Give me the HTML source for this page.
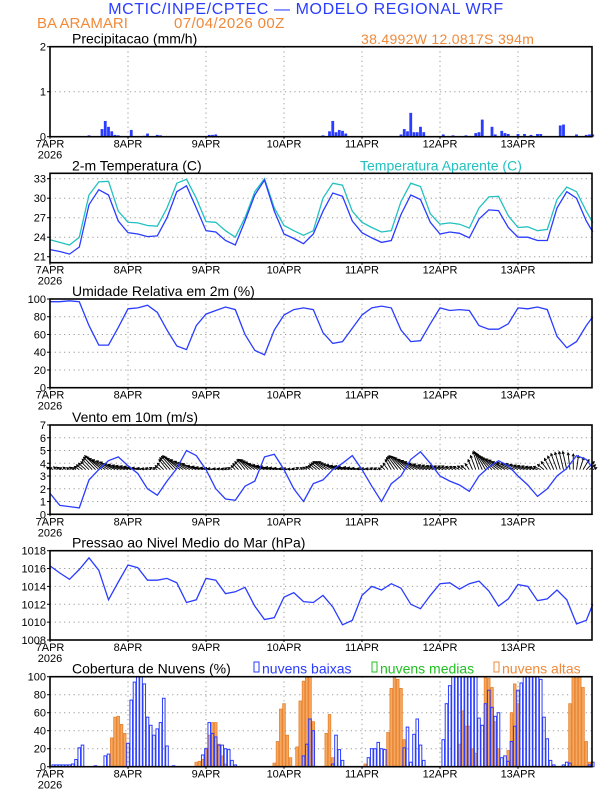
<!DOCTYPE html>
<html><head><meta charset="utf-8"><style>
html,body{margin:0;padding:0;background:#fff;}
svg{display:block;font-family:"Liberation Sans",sans-serif;}
.tk{font-size:11px;fill:#000;}
.tt{font-size:14px;fill:#000;}
</style></head><body>
<svg id="c" width="612" height="792" viewBox="0 0 612 792">
<text x="306" y="14" text-anchor="middle" font-size="16" letter-spacing="0.6" fill="#2a3cff">MCTIC/INPE/CPTEC — MODELO REGIONAL WRF</text>
<text x="37" y="28" font-size="15" fill="#f08a3a">BA ARAMARI</text>
<text x="174" y="28" font-size="15" letter-spacing="0.4" fill="#f08a3a">07/04/2026 00Z</text>
<text x="361" y="44" font-size="14" letter-spacing="0.3" fill="#f08a3a">38.4992W 12.0817S 394m</text>
</svg>
<script>
const precipHours=[12,16,17,18,19,20,21,25,29,30,33,34,49,50,51,84,86,87,88,89,90,91,108,109,110,111,112,113,114,115,121,124,128,131,132,133,136,137,139,140,141,144,146,148,150,151,157,158,162,165,166,167];
const precipVals=[0.03,0.17,0.35,0.22,0.12,0.04,0.03,0.15,0.02,0.07,0.04,0.03,0.04,0.04,0.05,0.03,0.12,0.35,0.1,0.15,0.13,0.07,0.05,0.17,0.12,0.53,0.1,0.1,0.22,0.1,0.05,0.03,0.03,0.08,0.1,0.38,0.22,0.05,0.13,0.08,0.06,0.06,0.06,0.04,0.06,0.06,0.25,0.27,0.05,0.04,0.05,0.05];
const hours3=[0,3,6,9,12,15,18,21,24,27,30,33,36,39,42,45,48,51,54,57,60,63,66,69,72,75,78,81,84,87,90,93,96,99,102,105,108,111,114,117,120,123,126,129,132,135,138,141,144,147,150,153,156,159,162,165,167];
const temp2m=[22.1,21.8,21.4,22.5,29,31.3,30.5,26.5,24.7,24.5,24.1,24.2,27,31,31.9,28.5,25,24.8,23.5,22.8,26.5,30.5,32.8,28,24.5,23.8,23.0,24.5,28,30.8,30.3,26.5,24.7,23.9,23.2,23.5,27.5,30.5,29.8,26.3,24.5,24.8,24.6,23.9,26.8,28.2,28.1,25.5,24,24,23.5,23.5,28.5,31.0,30,26.5,24.8];
const tempApar=[23.6,23.2,22.8,24,30.5,32.5,32.6,28,26.3,26.2,25.8,25.7,28.5,32.3,32.9,30,26.4,26.3,25,24,27,31,33,28.5,25.8,25,24.3,25,30,32.3,32,28,26.3,25.5,24.8,25,29.5,32.3,31.8,27.6,26,26.2,26,25.4,28.5,30.2,30.3,27.3,25.5,25.6,25,25.2,29.8,31.7,31,28,26.2];
const humidity=[97,97,98,97,70,48,48,68,89,90,93,85,65,47,43,70,83,87,91,88,60,42,37,65,82,88,90,88,62,50,52,67,82,90,92,90,65,52,53,72,90,87,88,87,70,66,66,72,90,89,91,88,58,45,52,70,80];
const windSpeed=[1.65,0.7,0.6,0.5,2.7,3.5,4.2,4.5,3.8,3.2,2.0,1.5,2.6,3.6,5.0,4.6,3.5,2.0,1.2,1.1,2.2,2.6,4.5,4.7,3.5,2.0,1.0,2.4,2.7,3.5,4.0,4.6,3.5,2.2,1.0,2.4,3.0,4.3,4.9,4.0,3.0,2.6,2.3,1.8,3.0,3.7,4.2,3.8,3.0,2.3,1.4,2.0,3.0,3.6,4.6,4.3,3.6];
const windU=[-0.8,-0.9,-0.7,-0.8,-0.9,-0.8,-0.7,-0.8,-0.9,-1.2,-1.5,-1.8,
-2,-2.5,-3,-3.5,-3.8,-4,-4,-3.8,-3.7,-3.5,-3.3,-3.1,
-3,-2.8,-2.6,-2.5,-2.2,-1.8,-1.5,-1.3,-1.1,-1,-1.3,-1.6,
-2,-2.6,-3,-3.5,-3.8,-4,-4,-3.8,-3.6,-3.5,-3,-2.7,
-2.5,-2.2,-2,-2,-1.5,-1.2,-1,-1,-1,-1,-1.4,-1.7,
-2,-2.5,-3,-3.5,-3.8,-4,-4,-3.8,-3.6,-3.5,-3,-2.8,
-2.5,-2,-1.8,-1.5,-1.2,-1,-0.8,-0.9,-1,-1.2,-1.7,-2.1,
-2.5,-3,-3.3,-3.5,-3.8,-4,-4,-3.8,-3.6,-3.5,-3,-2.8,
-2.5,-2,-1.8,-1.5,-1.2,-1,-0.8,-1,-1.2,-1.5,-2,-2.5,
-3,-3.4,-3.7,-4,-4,-4,-4,-3.7,-3.4,-3,-2.8,-2.6,
-2.5,-2.3,-2.1,-2,-1.8,-1.6,-1.5,-1.3,-1.2,-1,-1.1,-1.3,
-1.5,-2,-2.5,-3,-3.4,-3.7,-4,-4,-4,-4,-3.6,-3.3,
-3,-2.8,-2.6,-2.5,-2.3,-2.1,-2,-1.8,-1.6,-1.5,-1.5,-1.5,
-1.5,-1.3,-1.1,-1,-0.5,0,0.5,1,1.5,2,1.5,1];
const windV=[0.6,0.5,0.7,0.6,0.5,0.6,0.5,0.6,0.5,0.8,1.2,1.6,
2,2.6,3.1,3.5,3.2,2.8,2.5,2.2,1.9,1.5,1.3,1.1,
1,0.9,0.8,0.6,0.5,0.4,0.3,0.4,0.5,0.5,1,1.6,
2.5,3,3.3,3.5,3.2,2.8,2.5,2.1,1.8,1.5,1,0.8,
0.6,0.5,0.4,0.3,0.3,0.3,0.3,0.4,0.5,1,1.5,2,
2.5,2.6,2.5,2.5,2.2,1.9,1.5,1.2,1,0.8,0.6,0.5,
0.4,0.3,0.3,0.2,0.3,0.5,0.5,0.6,0.8,1,1.4,1.7,
2,2,2,2,1.7,1.4,1.2,1,0.9,0.7,0.6,0.5,
0.4,0.3,0.3,0.3,0.4,0.4,0.4,1,1.6,2.5,3,3.3,
3.5,3.4,3.2,3,2.6,2.3,2,1.6,1.4,1.2,1.1,1,
1,0.9,0.9,0.9,0.8,0.8,0.8,0.9,1,1.5,2.5,3.5,
4.5,4.5,4.2,4,3.6,3.3,3,2.7,2.4,2,1.8,1.6,
1.5,1.3,1.1,1,0.9,0.8,0.7,0.8,1.3,2,2.8,3.4,
4,4.3,4.5,4.5,4.2,3.9,3.5,3,2.5,2,1.2,0.5];
const pressure=[1016.3,1015.5,1014.8,1015.9,1017.2,1015.8,1012.5,1014.5,1016.4,1016.1,1014.7,1014.7,1014.9,1014.4,1012.2,1012.5,1014.9,1014.7,1013.2,1013.4,1013.9,1011.8,1010.3,1010.5,1012.8,1013.3,1012.3,1012.2,1013.0,1011.7,1009.7,1010.2,1013.0,1014,1013.6,1014.3,1013.8,1012.0,1011.5,1013,1014.3,1014.4,1013.7,1014.3,1014.6,1013.5,1011.8,1012.6,1014.2,1014.0,1012.4,1012.6,1013.6,1012.5,1009.8,1010.2,1012.0];
const lowHours=[1,2,3,4,5,6,7,8,9,10,14,17,18,24,25,26,27,28,29,30,31,32,33,34,35,36,38,47,48,49,50,51,52,53,54,55,56,57,78,79,80,81,87,88,89,90,98,99,100,101,102,103,109,110,111,112,113,114,115,121,122,123,124,125,126,127,128,129,130,131,132,133,134,135,136,137,138,139,140,141,142,143,144,145,146,147,148,149,150,151,152,153,154,155,158,159,160,166,167];
const lowVals=[2,2,2,2,2,2,3,8,21,24,1,12,14,26,74,94,100,100,92,55,46,35,42,49,76,23,1,13,20,49,37,33,24,24,20,19,7,2,12,25,53,40,3,35,19,7,10,20,20,27,20,19,21,44,5,36,53,24,7,30,70,90,100,100,100,100,100,100,100,100,54,46,70,85,66,56,60,10,12,6,28,45,85,93,100,100,100,100,100,97,55,31,7,2,2,5,4,2,5];
const highHours=[19,20,21,22,23,45,46,47,48,49,50,51,52,53,54,69,70,71,72,73,74,76,77,78,79,80,81,85,86,87,97,104,105,106,107,108,109,126,127,128,129,130,131,134,135,136,137,138,141,142,143,144,160,161,162,163,164,165,166];
const highVals=[32,55,56,47,37,5,6,8,20,35,49,49,25,12,3,4,28,64,70,35,10,22,73,95,100,100,50,37,58,10,3,38,87,100,97,87,30,25,62,45,45,20,15,100,98,88,50,20,18,60,92,70,70,100,100,100,88,28,5];
const dayLabels=["7APR","8APR","9APR","10APR","11APR","12APR","13APR"];

const svg=document.getElementById('c');
const NS='http://www.w3.org/2000/svg';
const X0=50,DAY=78;
function xh(h){return X0+h*DAY/24;}
function mk(tag,attrs,parent){const e=document.createElementNS(NS,tag);for(const k in attrs)e.setAttribute(k,attrs[k]);(parent||svg).appendChild(e);return e;}
function panel(name,top,bot,ymin,ymax,ticks,title){
  const g=mk('g',{});
  
  
  const y=v=>bot-(v-ymin)/(ymax-ymin)*(bot-top);
  for(let d=1;d<7;d++){const l=mk('line',{x1:xh(d*24),x2:xh(d*24),y1:top,y2:bot,stroke:'#999','stroke-dasharray':'1.2,3.5','stroke-width':1},g);
    
    }
  ticks.forEach(t=>{const yy=y(t);
    if(yy>top+1&&yy<bot-1){const l=mk('line',{x1:X0,x2:592,y1:yy,y2:yy,stroke:'#999','stroke-dasharray':'1.2,3.5','stroke-width':1},g);
      
      }
    mk('line',{x1:X0-3,x2:X0,y1:yy,y2:yy,stroke:'#000'},g);
    const tx=mk('text',{x:X0-4,y:yy+4,'text-anchor':'end',class:'tk'},g);tx.textContent=t;
    
    });
  dayLabels.forEach((s,i)=>{const tx=mk('text',{x:xh(i*24),y:bot+11,'text-anchor':'middle',class:'tk'},g);tx.textContent=s;
    
    
    mk('line',{x1:xh(i*24),x2:xh(i*24),y1:bot,y2:bot+2,stroke:'#000'},g);});
  const yr=mk('text',{x:X0,y:bot+22,'text-anchor':'middle',class:'tk'},g);yr.textContent='2026';
  
  
  const tt=mk('text',{x:72,y:top-3,class:'tt'},g);tt.textContent=title;
  
  
  return {g,y,top,bot};
}
function frame(p){const r=mk('rect',{x:X0,y:p.top,width:592-X0,height:p.bot-p.top,fill:'none',stroke:'#000','stroke-width':1.6},p.g);
  
  }
function line(p,vals,col,name){const d=vals.map((v,i)=>(i?'L':'M')+xh(hours3[i]).toFixed(1)+','+p.y(v).toFixed(1)).join('');
  const e=mk('path',{d,fill:'none',stroke:col,'stroke-width':1.3},p.g);
  
  }

const p1=panel('precip-panel',46.7,136.7,0,2,[0,1,2],'Precipitacao (mm/h)');
precipHours.forEach((h,i)=>{const yy=p1.y(precipVals[i]);const b=mk('rect',{x:xh(h)-1.4,y:yy,width:2.8,height:p1.bot-yy,fill:'#2a3cff'},p1.g);
  
  });
frame(p1);
const p2=panel('temperature-panel',173.3,262.7,20.08,33.83,[21,24,27,30,33],'2-m Temperatura (C)');
const ta=mk('text',{x:360,y:170.3,'font-size':'14',fill:'#22c0c0'},p2.g);ta.textContent='Temperatura Aparente (C)';


line(p2,tempApar,'#22c0c0','apparent-temp-line');
line(p2,temp2m,'#2a3cff','temp-line');
frame(p2);
const p3=panel('humidity-panel',299,387.7,0,100,[0,20,40,60,80,100],'Umidade Relativa em 2m (%)');
line(p3,humidity,'#2a3cff','humidity-line');
frame(p3);
const p4=panel('wind-panel',425,514.3,0,7,[0,1,2,3,4,5,6,7],'Vento em 10m (m/s)');
const base=p4.y(3.5),VS=4;
windU.forEach((u,h)=>{const x1=xh(h),x2=x1+u*VS,y2=base-windV[h]*VS;
  const a=mk('line',{x1,y1:base,x2,y2,stroke:'#000','stroke-width':0.9},p4.g);
  
  
  const ang=Math.atan2(y2-base,x2-x1),L=2.6;
  const hd=mk('path',{d:`M${x2-L*Math.cos(ang-0.5)},${y2-L*Math.sin(ang-0.5)}L${x2},${y2}L${x2-L*Math.cos(ang+0.5)},${y2-L*Math.sin(ang+0.5)}`,fill:'none',stroke:'#000','stroke-width':0.9},p4.g);
  
  });
line(p4,windSpeed,'#2a3cff','wind-speed-line');
frame(p4);
const p5=panel('pressure-panel',550.7,640,1008,1018,[1008,1010,1012,1014,1016,1018],'Pressao ao Nivel Medio do Mar (hPa)');
line(p5,pressure,'#2a3cff','pressure-line');
frame(p5);
const p6=panel('cloud-panel',676.7,766.7,0,100,[0,20,40,60,80,100],'Cobertura de Nuvens (%)');
highHours.forEach((h,i)=>{const yy=p6.y(highVals[i]);const b=mk('rect',{x:xh(h)-1.3,y:yy,width:2.6,height:p6.bot-yy,fill:'#f5a860',stroke:'#e8802e','stroke-width':0.8},p6.g);
  
  });
lowHours.forEach((h,i)=>{const yy=p6.y(lowVals[i]);const b=mk('rect',{x:xh(h)-1.3,y:yy,width:2.6,height:p6.bot-yy,fill:'none',stroke:'#2a3cff','stroke-width':1},p6.g);
  
  });
[['legend-low-clouds',254,'#2a3cff','nuvens baixas'],['legend-mid-clouds',372,'#22c022','nuvens medias'],['legend-high-clouds',494,'#f08a3a','nuvens altas']].forEach(([n,x,c,t])=>{
  const g=mk('g',{},p6.g);
  
  
  mk('rect',{x:x,y:662,width:5,height:10,fill:'none',stroke:c,'stroke-width':1},g);
  const tx=mk('text',{x:x+8,y:673.5,'font-size':'14',fill:c},g);tx.textContent=t;});
frame(p6);
</script>
</body></html>
